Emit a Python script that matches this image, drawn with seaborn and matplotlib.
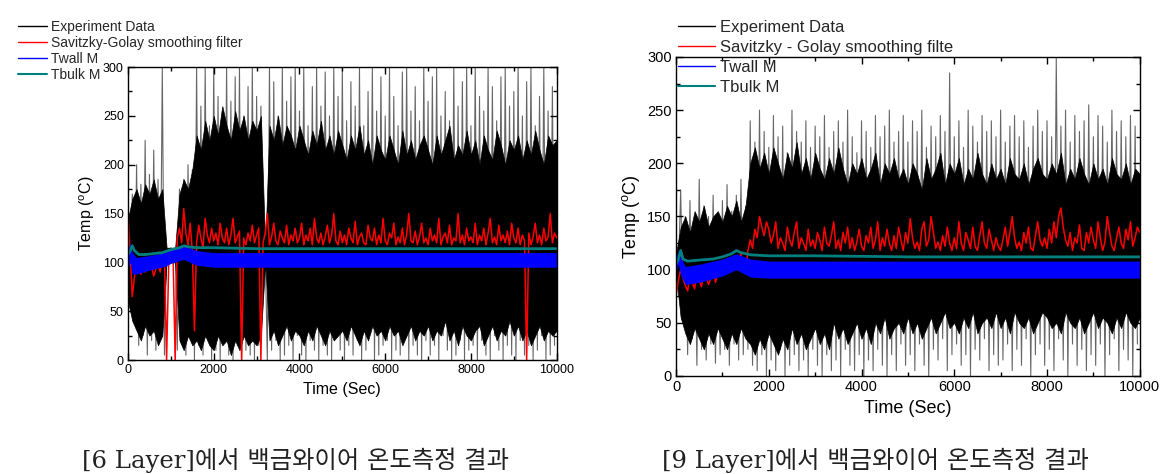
import matplotlib
matplotlib.use("Agg")
import matplotlib.pyplot as plt
import numpy as np
import pandas as pd
import seaborn as sns
from matplotlib.lines import Line2D
from matplotlib.ticker import MultipleLocator

# ---- 6 Layer ----
# dense core of the raw signal, upper / lower edge every 100 s
core6_hi = [145, 165, 175, 160, 180, 170, 185, 165, 175, 115,
            115, 115, 170, 185, 175, 195, 230, 215, 245, 225,
            250, 230, 260, 240, 225, 255, 235, 250, 225, 245,
            235, 250, 115, 240, 225, 250, 220, 240, 230, 215,
            240, 225, 210, 235, 220, 245, 215, 230, 210, 235,
            220, 205, 230, 215, 240, 210, 225, 200, 230, 215,
            205, 230, 215, 200, 235, 210, 225, 205, 220, 230,
            215, 200, 230, 210, 225, 240, 205, 220, 210, 235,
            210, 225, 200, 230, 215, 205, 235, 220, 200, 225,
            215, 230, 205, 225, 210, 235, 215, 200, 230, 220,
            225]
core6_lo = [60, 40, 30, 20, 35, 25, 30, 15, 25, 100,
            100, 100, 20, 10, 25, 15, 20, 10, 25, 15,
            10, 25, 15, 20, 5, 20, 10, 25, 15, 20,
            15, 25, 100, 20, 30, 15, 25, 35, 20, 30,
            25, 15, 30, 20, 35, 25, 15, 30, 20, 25,
            30, 20, 35, 25, 15, 30, 20, 35, 25, 30,
            20, 35, 25, 30, 15, 25, 35, 20, 30, 25,
            35, 20, 30, 25, 40, 20, 30, 15, 35, 25,
            20, 30, 35, 15, 25, 35, 20, 30, 25, 40,
            25, 35, 20, 30, 15, 25, 35, 20, 30, 25,
            30]
# raw spikes: peaks at t = 0, 100, ... and troughs at t = 50, 150, ...
peak6 = [150, 170, 200, 180, 225, 190, 215, 185, 300, 115,
         115, 115, 175, 185, 200, 195, 300, 260, 300, 240,
         300, 270, 255, 300, 265, 290, 300, 250, 280, 300,
         270, 260, 115, 300, 285, 250, 300, 265, 290, 300,
         255, 300, 240, 280, 300, 260, 295, 250, 300, 270,
         300, 245, 285, 260, 300, 240, 275, 300, 255, 290,
         250, 300, 270, 240, 295, 300, 255, 280, 245, 300,
         265, 290, 300, 250, 275, 245, 300, 260, 285, 300,
         240, 300, 270, 255, 300, 280, 245, 290, 300, 260,
         275, 300, 250, 285, 300, 240, 270, 300, 255, 280]
trough6 = [90, 40, 15, 25, 5, 20, 10, 30, 5, 100,
           100, 10, 20, 5, 30, 0, 15, 5, 25, 0,
           10, 0, 20, 5, 0, 15, 0, 10, 5, 0,
           15, 100, 0, 10, 20, 0, 5, 15, 0, 25,
           5, 0, 20, 10, 0, 15, 5, 0, 25, 10,
           0, 15, 5, 20, 0, 10, 30, 0, 5, 15,
           20, 0, 10, 5, 25, 0, 15, 5, 0, 20,
           5, 15, 0, 25, 10, 0, 5, 20, 0, 10,
           15, 0, 20, 5, 0, 25, 10, 0, 15, 5,
           0, 20, 5, 15, 0, 10, 25, 0, 5, 15]
# Savitzky-Golay output, every 50 s
sg6 = [150, 110, 65, 85, 100, 94, 88, 97, 90, 100, 105, 95, 86, 93, 98, 90, 102, 108, 0, 100,
       105, 110, 0, 125, 135, 120, 155, 130, 118, 140, 112, 30, 120, 138, 125, 115, 145, 128, 120, 135,
       122, 130, 118, 140, 125, 120, 135, 118, 128, 145, 120, 126, 132, 0, 125, 118, 130, 122, 138, 120,
       128, 135, 0, 120, 130, 150, 118, 126, 140, 122, 118, 132, 125, 120, 138, 118, 128, 122, 135, 120,
       125, 140, 118, 128, 122, 135, 118, 145, 125, 120, 130, 118, 126, 138, 120, 128, 150, 122, 118, 132,
       120, 128, 118, 135, 125, 120, 142, 118, 126, 130, 120, 118, 138, 125, 122, 135, 118, 128, 120, 145,
       122, 118, 130, 125, 140, 118, 126, 120, 135, 118, 128, 150, 122, 120, 132, 118, 126, 140, 120, 125,
       118, 135, 122, 128, 120, 145, 118, 126, 130, 120, 138, 118, 125, 122, 150, 120, 128, 118, 135, 122,
       126, 120, 140, 118, 128, 122, 135, 118, 130, 145, 120, 126, 118, 138, 122, 128, 120, 132, 118, 140,
       125, 120, 135, 118, 128, 122, 0, 130, 118, 126, 140, 120, 128, 118, 135, 122, 126, 150, 120, 130,
       125]
wall6_t = [0, 50, 100, 200, 500, 870, 1000, 1300, 1600, 2000, 5000, 10000]
wall6_lo = [95, 100, 88, 88, 92, 96, 99, 103, 97, 95, 95, 95]
wall6_hi = [112, 120, 110, 105, 107, 110, 113, 117, 112, 110, 110, 110]
bulk6_t = [0, 50, 100, 150, 250, 400, 600, 800, 1000, 1200, 1300, 1400,
           1600, 2000, 3000, 5000, 7000, 10000]
bulk6 = [108, 112, 117, 112, 108, 108, 109, 110, 113, 115, 117, 116,
         115, 115, 114, 114, 114, 114]

# ---- 9 Layer ----
core9_hi = [115, 140, 150, 135, 155, 145, 160, 140, 150, 155,
            145, 160, 150, 165, 145, 160, 200, 215, 195, 210,
            190, 215, 200, 185, 210, 195, 220, 190, 205, 185,
            210, 195, 185, 205, 190, 215, 195, 180, 200, 190,
            205, 185, 195, 210, 180, 200, 190, 205, 185, 195,
            180, 200, 190, 175, 205, 185, 195, 210, 180, 200,
            190, 205, 180, 195, 185, 210, 190, 180, 200, 185,
            195, 180, 205, 190, 185, 200, 180, 195, 205, 190,
            185, 200, 190, 210, 180, 195, 185, 205, 190, 180,
            200, 185, 195, 180, 205, 190, 185, 200, 180, 195,
            190]
core9_lo = [95, 55, 40, 30, 45, 35, 25, 40, 30, 45,
            35, 25, 40, 30, 45, 35, 30, 20, 35, 25,
            40, 30, 20, 35, 25, 45, 30, 40, 25, 35,
            45, 30, 40, 25, 50, 35, 45, 30, 40, 50,
            35, 45, 30, 50, 40, 55, 35, 45, 50, 40,
            55, 40, 50, 35, 45, 55, 40, 50, 60, 45,
            50, 40, 55, 45, 60, 40, 50, 55, 45, 60,
            45, 55, 40, 60, 50, 45, 55, 40, 50, 60,
            55, 45, 50, 40, 60, 50, 45, 55, 40, 50,
            60, 45, 55, 50, 40, 55, 45, 60, 50, 45,
            55]
peak9 = [118, 175, 150, 165, 140, 185, 160, 150, 170, 145,
         165, 180, 155, 170, 185, 160, 240, 220, 250, 230,
         215, 245, 225, 235, 210, 250, 230, 220, 240, 215,
         235, 225, 245, 215, 230, 240, 220, 250, 225, 210,
         240, 230, 215, 245, 225, 235, 250, 220, 230, 245,
         220, 240, 230, 250, 215, 235, 225, 245, 230, 285,
         225, 240, 215, 250, 235, 220, 245, 230, 240, 225,
         250, 220, 235, 245, 225, 240, 215, 235, 250, 230,
         240, 225, 300, 235, 250, 220, 245, 230, 240, 255,
         225, 245, 235, 220, 250, 230, 240, 225, 245, 235]
trough9 = [95, 60, 20, 35, 10, 25, 15, 30, 12, 20,
           25, 10, 30, 15, 20, 25, 10, 5, 20, 0,
           15, 5, 25, 0, 10, 20, 5, 15, 0, 25,
           10, 0, 20, 5, 15, 0, 25, 10, 5, 20,
           0, 15, 5, 25, 10, 0, 20, 5, 30, 10,
           20, 5, 30, 10, 0, 25, 15, 35, 5, 20,
           30, 10, 20, 0, 25, 15, 35, 5, 20, 10,
           15, 30, 5, 25, 10, 35, 0, 20, 30, 10,
           25, 5, 35, 15, 0, 30, 10, 25, 5, 20,
           10, 30, 0, 20, 35, 5, 25, 15, 0, 30]
sg9 = [75, 90, 100, 92, 85, 80, 95, 88, 82, 98, 90, 84, 100, 94, 86, 92, 104, 88, 96, 100,
       95, 102, 108, 98, 104, 112, 100, 108, 115, 105, 96, 118, 128, 120, 138, 130, 150, 140, 132, 145,
       138, 125, 132, 145, 120, 130, 125, 118, 140, 128, 122, 135, 145, 120, 130, 125, 118, 138, 122, 128,
       120, 135, 128, 118, 140, 125, 122, 132, 145, 120, 128, 118, 135, 125, 140, 120, 130, 118, 126, 138,
       122, 118, 132, 125, 140, 120, 128, 145, 118, 130, 122, 138, 125, 118, 132, 120, 140, 128, 118, 135,
       125, 148, 130, 120, 126, 118, 138, 145, 122, 128, 150, 135, 120, 126, 118, 132, 122, 140, 125, 118,
       130, 120, 145, 125, 118, 135, 128, 120, 140, 122, 118, 132, 145, 125, 120, 138, 128, 118, 130, 122,
       118, 128, 140, 122, 135, 150, 130, 120, 126, 118, 135, 125, 140, 120, 118, 132, 145, 128, 122, 130,
       120, 138, 125, 145, 130, 150, 158, 140, 128, 122, 135, 118, 130, 125, 142, 120, 118, 135, 125, 140,
       128, 120, 145, 130, 118, 126, 150, 135, 122, 118, 130, 140, 125, 120, 138, 128, 145, 122, 130, 140,
       135]
wall9_t = [0, 50, 100, 200, 500, 1000, 1300, 1600, 2000, 5000, 10000]
wall9_lo = [98, 105, 95, 86, 88, 94, 100, 93, 92, 92, 92]
wall9_hi = [112, 118, 112, 103, 105, 110, 115, 110, 108, 108, 108]
bulk9_t = [0, 50, 100, 150, 250, 500, 800, 1000, 1200, 1300, 1400, 1600,
           2000, 3000, 5000, 7000, 10000]
bulk9 = [105, 110, 118, 110, 108, 109, 110, 112, 115, 118, 116, 114,
         113, 113, 112, 112, 112]

legend6 = ["Experiment Data", "Savitzky-Golay smoothing filter", "Twall M", "Tbulk M"]
legend9 = ["Experiment Data", "Savitzky - Golay smoothing filte", "Twall M", "Tbulk M"]
captions = ["[6 Layer]에서 백금와이어 온도측정 결과", "[9 Layer]에서 백금와이어 온도측정 결과"]

RED = "#ff0000"
BLUE = "#0000ff"
TEAL = "#007f7f"

sns.set_theme(style="ticks")
plt.rcParams["font.family"] = ["Liberation Sans", "DejaVu Sans"]
plt.rcParams["mathtext.fontset"] = "custom"
plt.rcParams["mathtext.rm"] = "Liberation Sans"


def spike_frame(peaks, troughs):
    times = []
    values = []
    for i, (p, q) in enumerate(zip(peaks, troughs)):
        times += [i * 100, i * 100 + 50]
        values += [p, q]
    return pd.DataFrame({"t": times, "temp": values})


def draw_panel(ax, core_hi, core_lo, peaks, troughs, sg, wall_t, wall_lo, wall_hi,
               bulk_t, bulk, tick_size, label_size):
    core_t = np.arange(len(core_hi)) * 100
    ax.fill_between(core_t, core_lo, core_hi, color="black", lw=0.5,
                    edgecolor="black", zorder=1)
    spikes = spike_frame(peaks, troughs)
    sns.lineplot(data=spikes, x="t", y="temp", ax=ax, color="black",
                 lw=0.8, alpha=0.6, zorder=2, sort=False, estimator=None)
    sg_frame = pd.DataFrame({"t": np.arange(len(sg)) * 50, "temp": sg})
    sns.lineplot(data=sg_frame, x="t", y="temp", ax=ax, color=RED,
                 lw=1.1, zorder=3, estimator=None)
    ax.fill_between(wall_t, wall_lo, wall_hi, color=BLUE, lw=0, zorder=4)
    bulk_frame = pd.DataFrame({"t": bulk_t, "temp": bulk})
    sns.lineplot(data=bulk_frame, x="t", y="temp", ax=ax, color=TEAL,
                 lw=2.0, zorder=5, estimator=None)

    ax.set_xlim(0, 10000)
    ax.set_ylim(0, 300)
    ax.xaxis.set_major_locator(MultipleLocator(2000))
    ax.xaxis.set_minor_locator(MultipleLocator(1000))
    ax.yaxis.set_major_locator(MultipleLocator(50))
    ax.yaxis.set_minor_locator(MultipleLocator(25))
    ax.tick_params(which="both", direction="in", top=True, right=True,
                   color="black", width=1, labelsize=tick_size, pad=3)
    ax.tick_params(which="major", length=5)
    ax.tick_params(which="minor", length=3)
    for spine in ax.spines.values():
        spine.set_visible(True)
        spine.set_color("black")
        spine.set_linewidth(1.0)
        spine.set_zorder(6)
    ax.set_xlabel("Time (Sec)", fontsize=label_size, color="black")
    ax.set_ylabel(r"Temp ($^\mathrm{o}$C)", fontsize=label_size, color="black")
    ax.tick_params(labelcolor="black")


def legend_handles():
    return [Line2D([], [], color="black", lw=1),
            Line2D([], [], color=RED, lw=1),
            Line2D([], [], color=BLUE, lw=1),
            Line2D([], [], color=TEAL, lw=1.5)]


fig = plt.figure(figsize=(11.68, 4.74), dpi=100)
ax1 = fig.add_axes([0.1096, 0.2405, 0.367, 0.618])
ax2 = fig.add_axes([0.5788, 0.2068, 0.397, 0.673])

draw_panel(ax1, core6_hi, core6_lo, peak6, trough6, sg6,
           wall6_t, wall6_lo, wall6_hi, bulk6_t, bulk6, 9, 11.5)
draw_panel(ax2, core9_hi, core9_lo, peak9, trough9, sg9,
           wall9_t, wall9_lo, wall9_hi, bulk9_t, bulk9, 10.5, 13)

fig.legend(legend_handles(), legend6, loc="upper left",
           bbox_to_anchor=(18 / 1168, 1 - 20 / 474), frameon=False,
           fontsize=10, handlelength=2.1, handletextpad=0.3,
           labelspacing=0.15, borderpad=0, borderaxespad=0)
fig.legend(legend_handles(), legend9, loc="upper left",
           bbox_to_anchor=(678 / 1168, 1 - 20 / 474), frameon=False,
           fontsize=12, handlelength=2.2, handletextpad=0.3,
           labelspacing=0.3, borderpad=0, borderaxespad=0)

cap_family = ["DejaVu Serif", "Noto Sans CJK KR"]
fig.text(295 / 1168, 1 - 460 / 474, captions[0], ha="center", va="center",
         fontsize=17.5, family=cap_family, color="#222222")
fig.text(875 / 1168, 1 - 460 / 474, captions[1], ha="center", va="center",
         fontsize=17.5, family=cap_family, color="#222222")

fig.savefig("out.png", dpi=100)
